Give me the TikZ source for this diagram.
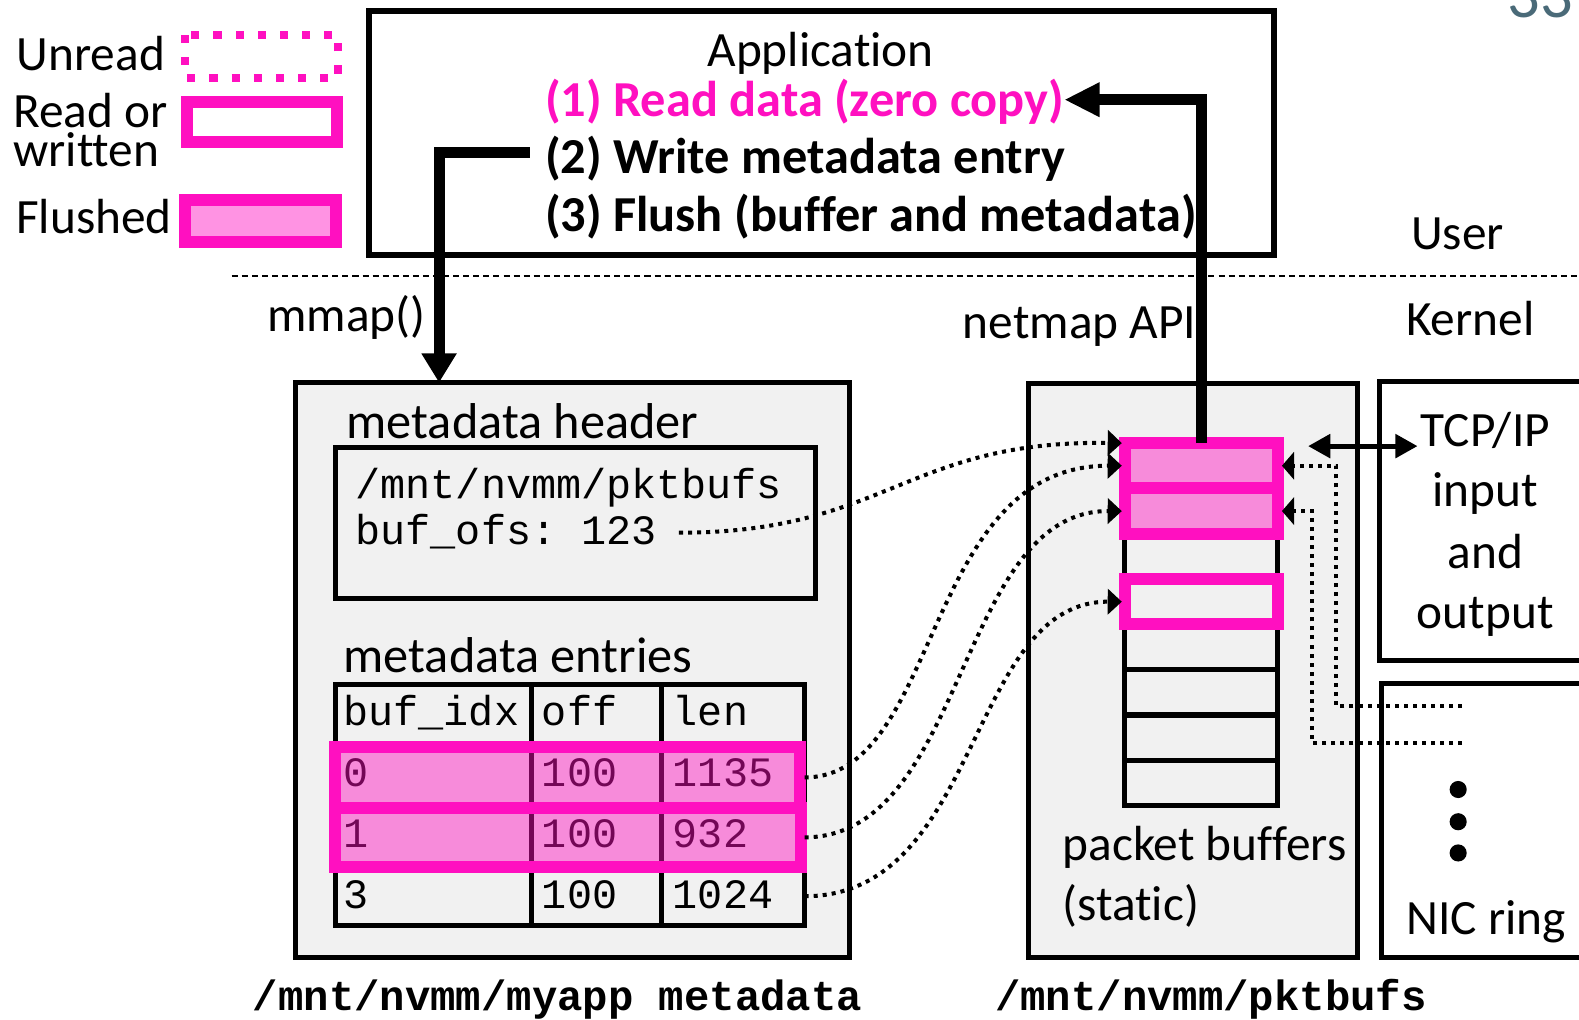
\documentclass[tikz,border=0pt]{standalone}
\usepackage{fontspec}
\setmainfont{Carlito}[Ligatures=NoCommon]
\setmonofont{Liberation Mono}
\usetikzlibrary{arrows.meta}

\definecolor{rosa}{RGB}{255,16,192}
\definecolor{gris}{RGB}{241,241,241}
\definecolor{azulgris}{RGB}{74,106,120}

\newcommand{\letra}[1]{\fontsize{#1}{#1}\selectfont}

\tikzset{
    texto/.style={inner sep=0pt, anchor=base west, font=\letra{49}},
    negrita/.style={inner sep=0pt, anchor=base west, font=\letra{50}\bfseries},
    mono/.style={inner sep=0pt, anchor=base west, font=\ttfamily\letra{41.5}},
    caja/.style={draw, line width=5pt, fill=gris, anchor=north west, inner sep=0pt, outer sep=0pt},
    marco/.style={draw=rosa, line width=12pt},
    relleno/.style={fill=rosa, fill opacity=0.45},
    ranura/.style={draw, line width=5pt, fill=gris, minimum width=152pt, minimum height=45pt, inner sep=0pt, outer sep=0pt},
    punteado/.style={line width=4pt, dash pattern=on 4pt off 5pt},
    gruesa/.style={line width=11pt},
}

\begin{document}
\begin{tikzpicture}[x=1pt,y=-1pt]
    \useasboundingbox (0,0) rectangle (1568,1012);

    % Numero de pagina
    \node[texto, text=azulgris, font=\letra{64}] (pag) at (1497,17) {33};

    % Leyenda
    \node[texto, anchor=base east] (unread) at (164,70) {Unread};
    \node[texto, align=left, font=\fontsize{49}{38}\selectfont] (readl) at (13,165) {Read or\\written};
    \node[texto] (flush) at (16,232) {Flushed};
    \draw[draw=rosa, line width=8pt, dash pattern=on 8pt off 14pt] (184,35) rectangle (336,77);
    \draw[marco] (186,101) rectangle (335,141);
    \draw[marco, relleno] (184,199) rectangle (334,240);

    % Aplicacion
    \node[caja, fill=white, line width=6pt, minimum width=899pt, minimum height=242pt] (appbox) at (366,11) {};
    \node[texto, anchor=base] (app) at (815,66) {Application};
    \node[negrita, text=rosa] (paso1) at (541,116) {(1) Read data (zero copy)};
    \node[negrita] (paso2) at (541,172) {(2) Write metadata entry};
    \node[negrita] (paso3) at (541,230) {(3) Flush (buffer and metadata)};

    % Usuario / nucleo
    \draw[line width=1.8pt, dash pattern=on 6pt off 4pt] (230,274) -- (1568,274);
    \node[texto] (user) at (1401,248) {User};
    \node[texto] (kernel) at (1396,333) {Kernel};
    \node[texto, anchor=base east] (mmap) at (423,329) {mmap()};
    \node[texto] (api) at (956,336) {netmap API};

    % Fichero de metadatos
    \node[caja, minimum width=551pt, minimum height=571pt] (meta) at (293,380) {};
    \node[texto, font=\letra{50}] (mhead) at (344,435) {metadata header};
    \node[caja, minimum width=477pt, minimum height=150pt] (cab) at (333,444) {};
    \node[mono] (ruta) at (353,495) {/mnt/nvmm/pktbufs};
    \node[mono] (ofs) at (353,541) {buf\_ofs: 123};
    \node[texto, font=\letra{50}] (ment) at (341,668) {metadata entries};

    % Tabla de entradas
    \node[caja, minimum width=466pt, minimum height=62pt] (enc) at (333,680) {};
    \node[caja, minimum width=466pt, minimum height=60pt] (fila0) at (333,742) {};
    \node[caja, minimum width=466pt, minimum height=59pt] (fila1) at (333,802) {};
    \node[caja, minimum width=466pt, minimum height=58pt] (fila2) at (333,861) {};
    \foreach \x in {528,657}
        \draw[line width=5pt] (\x,680) -- (\x,919);
    \foreach \y/\a/\b/\c in {720/buf\_idx/off/len, 781/0/100/1135, 842/1/100/932, 902/3/100/1024} {
        \node[mono] (idx\y) at (341,\y) {\a};
        \node[mono] (off\y) at (538,\y) {\b};
        \node[mono] (len\y) at (668,\y) {\c};
    }
    \draw[marco, relleno] (fila0.north west) rectangle ([xshift=-5pt]fila0.south east);
    \draw[marco, relleno] (fila1.north west) rectangle ([xshift=-4pt]fila1.south east);

    % Buffers de paquetes
    \node[caja, minimum width=327pt, minimum height=570pt] (pkt) at (1021,381) {};
    \foreach \i in {0,...,7}
        \node[ranura] (b\i) at (1193,{462.5+45*\i}) {};
    \draw[marco, relleno] (b0.north west) rectangle (b0.south east);
    \draw[marco, relleno] (b1.north west) rectangle (b1.south east);
    \draw[marco] (b3.north west) rectangle (b3.south east);
    \node[texto] (pb1) at (1055,854) {packet buffers};
    \node[texto] (pb2) at (1055,914) {(static)};

    % TCP/IP y anillo de la NIC
    \node[caja, fill=white, minimum width=260pt, minimum height=277pt] (tcp) at (1370,379) {};
    \node[texto, anchor=base] (tcp1) at (1475,443) {TCP/IP};
    \node[texto, anchor=base] (tcp2) at (1475,503) {input};
    \node[texto, anchor=base] (tcp3) at (1475,565) {and};
    \node[texto, anchor=base] (tcp4) at (1475,624) {output};
    \node[caja, fill=white, minimum width=260pt, minimum height=272pt] (nic) at (1372,679) {};
    \foreach \y in {784,816,847}
        \fill (1448,\y) circle (8.5);
    \node[texto, anchor=base] (nicr) at (1476,928) {NIC ring};
    \coordinate (nic1) at (1452,701);
    \coordinate (nic2) at (1452,738);
    \coordinate (codo1) at (1327,701);
    \coordinate (codo2) at (1303,738);

    % Nombres de los ficheros
    \node[mono, font=\ttfamily\bfseries\letra{42}] (rutameta) at (251,1003) {/mnt/nvmm/myapp metadata};
    \node[mono, font=\ttfamily\bfseries\letra{42}] (rutapkt) at (988,1003) {/mnt/nvmm/pktbufs};

    % Punteros punteados
    \draw[punteado, -{Triangle[width=25pt,length=14pt]}] ([xshift=22pt,yshift=12pt]ofs.base east)
        .. controls (880,529) and (900,437) .. ([xshift=-3pt]b0.north west);
    \draw[punteado, -{Triangle[width=25pt,length=14pt]}] (fila0.east)
        .. controls (935,772) and (915,462) .. ([xshift=-3pt]b0.west);
    \draw[punteado, -{Triangle[width=25pt,length=14pt]}] (fila1.east)
        .. controls (960,831) and (950,507) .. ([xshift=-3pt]b1.west);
    \draw[punteado, -{Triangle[width=25pt,length=14pt]}] (fila2.east)
        .. controls (975,890) and (960,597) .. ([xshift=-3pt]b3.west);
    \draw[punteado, -{Triangle[width=27pt,length=12pt]}] (nic1) -- (codo1) |- ([xshift=4pt]b0.east);
    \draw[punteado, -{Triangle[width=27pt,length=12pt]}] (nic2) -- (codo2) |- ([xshift=4pt]b1.east);
    \draw[line width=5pt, {Triangle[width=23pt,length=22pt]}-{Triangle[width=23pt,length=22pt]}]
        ([xshift=30pt,yshift=-3pt]b0.north east) -- ([xshift=-3pt]tcp1.base west);

    % Flechas gruesas
    \draw[gruesa, -{Triangle[width=33pt,length=29pt]}] ([xshift=-15pt,yshift=21pt]paso2.base west)
        -| ([xshift=143pt]meta.north west);
    \draw[gruesa, -{Triangle[width=32pt,length=35pt]}] (b0.north) |- ([yshift=17pt]paso1.base east);
\end{tikzpicture}
\end{document}
